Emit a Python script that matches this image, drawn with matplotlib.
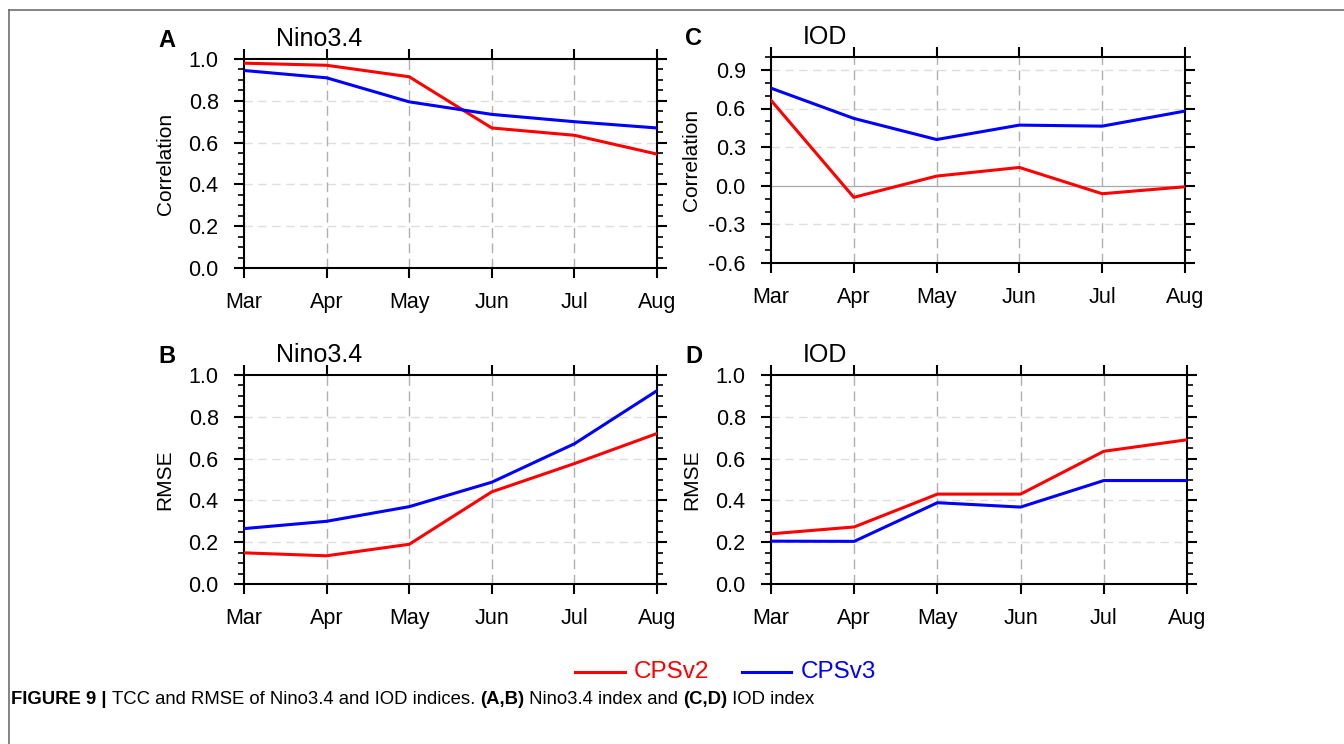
import matplotlib
matplotlib.use("Agg")
import matplotlib.pyplot as plt
from matplotlib.ticker import MultipleLocator
from matplotlib.lines import Line2D
import numpy as np

plt.rcParams['font.family'] = ['Liberation Sans', 'DejaVu Sans']

months = ["Mar", "Apr", "May", "Jun", "Jul", "Aug"]

nino_corr_v2 = [0.98, 0.97, 0.915, 0.67, 0.635, 0.545]
nino_corr_v3 = [0.945, 0.91, 0.795, 0.735, 0.70, 0.67]
iod_corr_v2 = [0.664, -0.09, 0.075, 0.142, -0.062, -0.008]
iod_corr_v3 = [0.758, 0.523, 0.359, 0.471, 0.463, 0.58]
nino_rmse_v2 = [0.149, 0.135, 0.19, 0.441, 0.576, 0.72]
nino_rmse_v3 = [0.265, 0.30, 0.37, 0.487, 0.671, 0.925]
iod_rmse_v2 = [0.24, 0.273, 0.43, 0.43, 0.635, 0.69]
iod_rmse_v3 = [0.205, 0.204, 0.389, 0.368, 0.495, 0.495]

series_names = ["CPSv2", "CPSv3"]
series_colors = ["#ff0000", "#0000ff"]

W, H = 1344, 744
fig = plt.figure(figsize=(W / 100, H / 100), dpi=100)


def px_axes(left, right, top, bottom):
    return fig.add_axes([left / W, 1 - bottom / H, (right - left) / W, (bottom - top) / H])


panels = [
    ("A", "Nino3.4", "Correlation", nino_corr_v2, nino_corr_v3, (0.0, 1.0), 0.2, 0.05, (244, 657, 59, 268)),
    ("C", "IOD", "Correlation", iod_corr_v2, iod_corr_v3, (-0.6, 1.0), 0.3, 0.1, (771, 1185, 57, 263)),
    ("B", "Nino3.4", "RMSE", nino_rmse_v2, nino_rmse_v3, (0.0, 1.0), 0.2, 0.05, (244, 657, 375, 584)),
    ("D", "IOD", "RMSE", iod_rmse_v2, iod_rmse_v3, (0.0, 1.0), 0.2, 0.05, (771, 1187, 375, 584)),
]

x = list(range(len(months)))
for letter, title, ylabel, v2, v3, ylim, major, minor, box in panels:
    left, right, top, bottom = box
    wpx, hpx = right - left, bottom - top
    ax = px_axes(*box)
    ax.set_xlim(0, len(months) - 1)
    ax.set_ylim(*ylim)
    yt = np.arange(ylim[0], ylim[1] + 1e-9, major)
    for yv in yt:
        if abs(yv - ylim[0]) < 1e-9 or abs(yv - ylim[1]) < 1e-9:
            continue
        if abs(yv) < 1e-9 and ylim[0] < 0:
            ax.axhline(0, color="#a8a8a8", lw=0.9, zorder=1)
        else:
            ax.axhline(yv, color="#dedede", lw=1.0, ls=(0, (6, 4)), zorder=1)
    for xv in x[1:-1]:
        ax.axvline(xv, color="#b0b0b0", lw=1.0, ls=(0, (7, 4)), zorder=1)
    ax.plot(x, v2, color=series_colors[0], lw=2.2, zorder=3)
    ax.plot(x, v3, color=series_colors[1], lw=2.2, zorder=3)
    ax.set_xticks(x)
    ax.set_xticklabels(months, fontsize=15.5)
    ax.set_yticks(yt)
    ax.set_yticklabels(["{:.1f}".format(v if abs(v) > 1e-9 else 0.0) for v in yt], fontsize=15.5)
    ax.yaxis.set_minor_locator(MultipleLocator(minor))
    ax.tick_params(axis="both", which="major", direction="out", length=7.2, width=1.5,
                   top=True, right=True)
    ax.tick_params(axis="x", which="major", pad=10)
    ax.tick_params(axis="y", which="major", pad=11)
    ax.tick_params(axis="y", which="minor", direction="out", length=4.3, width=1.2, right=True, left=True)
    ax.tick_params(axis="x", which="minor", bottom=False, top=False)
    for s in ax.spines.values():
        s.set_linewidth(1.5)
    ax.set_ylabel(ylabel, fontsize=15)
    ax.yaxis.set_label_coords(-79 / wpx, 0.5)
    ax.yaxis.label.set_va("center")
    ax.text(32 / wpx, 1 + 13 / hpx, title, transform=ax.transAxes, fontsize=18, ha="left", va="baseline")
    ax.text(-86 / wpx, 1 + 12 / hpx, letter, transform=ax.transAxes, fontsize=17, fontweight="bold",
            ha="left", va="baseline")

# legend
ly = 1 - 672 / H
fig.add_artist(Line2D([575 / W, 625 / W], [ly, ly], color=series_colors[0], lw=2.2))
fig.text(634 / W, ly, series_names[0], color=series_colors[0], fontsize=17.5, va="center", ha="left")
fig.add_artist(Line2D([742 / W, 791 / W], [ly, ly], color=series_colors[1], lw=2.2))
fig.text(801 / W, ly, series_names[1], color=series_colors[1], fontsize=17.5, va="center", ha="left")

# frame lines
fig.add_artist(Line2D([9 / W, 1.0], [1 - 10 / H, 1 - 10 / H], color="#6e6e6e", lw=1.2))
fig.add_artist(Line2D([9 / W, 9 / W], [0.0, 1 - 10 / H], color="#6e6e6e", lw=1.2))

# caption
pieces = [("FIGURE 9 | ", "bold"), ("TCC and RMSE of Nino3.4 and IOD indices. ", "normal"),
          ("(A,B)", "bold"), (" Nino3.4 index and ", "normal"), ("(C,D)", "bold"), (" IOD index", "normal")]
fig.canvas.draw()
renderer = fig.canvas.get_renderer()
cx = 11 / W
cy = 1 - 700 / H
for txt, wt in pieces:
    t = fig.text(cx, cy, txt, fontsize=13.3, fontweight=wt, va="center", ha="left")
    bb = t.get_window_extent(renderer=renderer)
    cx += bb.width / W

fig.savefig("out.png", dpi=100)
